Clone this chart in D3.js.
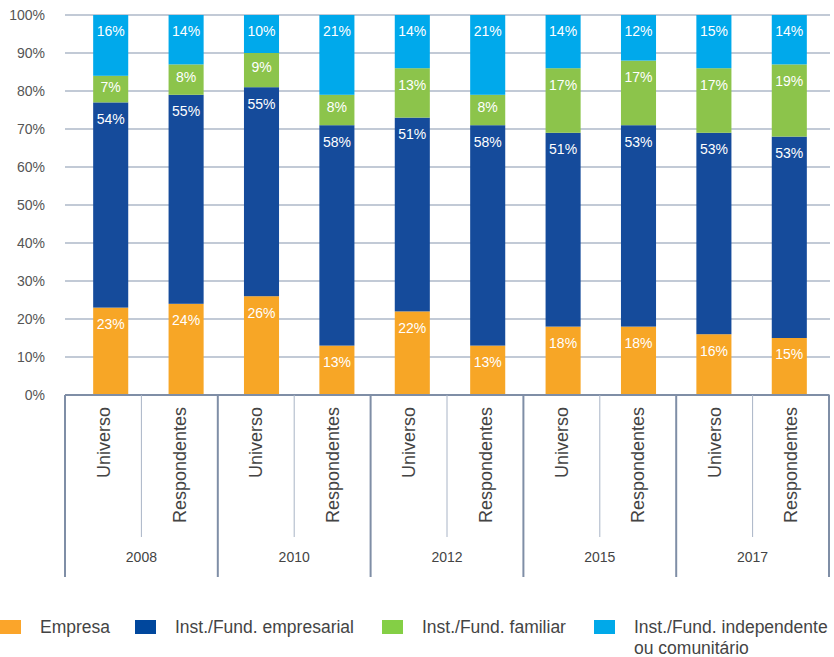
<!DOCTYPE html>
<html>
<head>
<meta charset="utf-8">
<script src="https://cdn.jsdelivr.net/npm/d3@7"></script>
<style>
  html, body { margin: 0; padding: 0; background: #fff; }
  svg { display: block; font-family: "Liberation Sans", Arial, sans-serif; }
</style>
</head>
<body>
<svg id="chart" width="834" height="657"></svg>
<script>
// ---- data ----
const years = ["2008", "2010", "2012", "2015", "2017"];
const groups = ["Universo", "Respondentes"];
const seriesNames = ["Empresa", "Inst./Fund. empresarial", "Inst./Fund. familiar", "Inst./Fund. independente ou comunitário"];
const empresa     = [23, 24, 26, 13, 22, 13, 18, 18, 16, 15];
const empresarial = [54, 55, 55, 58, 51, 58, 51, 53, 53, 53];
const familiar    = [7, 8, 9, 8, 13, 8, 17, 17, 17, 19];
const independente= [16, 14, 10, 21, 14, 21, 14, 12, 15, 14];
const yTicks = [0, 10, 20, 30, 40, 50, 60, 70, 80, 90, 100];
const barColors = ["#F7A626", "#154B9B", "#8CC44B", "#00A9EB"];
const legendColors = ["#FBA52A", "#00479D", "#84CF45", "#00A9E9"];

// ---- build table ----
const keys = ["empresa", "empresarial", "familiar", "independente"];
const cats = [];
years.forEach(y => groups.forEach(g => cats.push(y + "|" + g)));
const table = cats.map((c, i) => ({
  cat: c,
  empresa: empresa[i], empresarial: empresarial[i],
  familiar: familiar[i], independente: independente[i]
}));
const stacked = d3.stack().keys(keys)(table);

const svg = d3.select("#chart");

// ---- scales ----
const y = d3.scaleLinear().domain([0, 100]).range([395, 15]).clamp(true);
const xBar = d3.scaleBand().domain(cats).range([73, 827]).paddingInner(0.535).paddingOuter(0.2675);
const xAxisCat = d3.scaleBand().domain(cats).range([65, 829]);
const xYear = d3.scaleBand().domain(years).range([65, 829]);

// ---- gridlines ----
svg.append("g").selectAll("line").data(yTicks).join("line")
  .attr("x1", 65).attr("x2", 830)
  .attr("y1", d => y(d)).attr("y2", d => y(d))
  .attr("stroke", "#AEB8C8").attr("stroke-width", 1.3);

// ---- y labels ----
svg.append("g").selectAll("text").data(yTicks).join("text")
  .attr("x", 45).attr("y", d => y(d))
  .attr("dy", "0.35em")
  .attr("text-anchor", "end")
  .attr("font-size", 14).attr("fill", "#555")
  .text(d => d + "%");

// ---- bars ----
const layers = svg.append("g").selectAll("g").data(stacked).join("g")
  .attr("fill", (d, i) => barColors[i]);
layers.selectAll("rect").data(d => d).join("rect")
  .attr("x", d => xBar(d.data.cat))
  .attr("width", xBar.bandwidth())
  .attr("y", d => y(d[1]))
  .attr("height", d => y(d[0]) - y(d[1]));

// ---- value labels ----
stacked.forEach((layer, li) => {
  svg.append("g").selectAll("text").data(layer).join("text")
    .attr("x", d => xBar(d.data.cat) + xBar.bandwidth() / 2)
    .attr("y", d => {
      const top = y(d[1]);
      const h = y(d[0]) - y(d[1]);
      return top + Math.min(16.5, h * 0.42);
    })
    .attr("dy", "0.35em")
    .attr("text-anchor", "middle")
    .attr("font-size", 14).attr("fill", "#fff")
    .text(d => d.data[keys[li]] + "%");
});

// ---- category axis ----
const ax = svg.append("g");
ax.append("line").attr("x1", 65).attr("x2", 829).attr("y1", 395).attr("y2", 395)
  .attr("stroke", "#7F8EA6").attr("stroke-width", 2);
const bounds = years.map(yv => xYear(yv)).concat([xYear(years[years.length - 1]) + xYear.bandwidth()]);
ax.selectAll("line.outer").data(bounds).join("line").attr("class", "outer")
  .attr("x1", d => d).attr("x2", d => d).attr("y1", 395).attr("y2", 577)
  .attr("stroke", "#7F8EA6").attr("stroke-width", 2);
ax.selectAll("line.inner").data(years).join("line").attr("class", "inner")
  .attr("x1", d => xYear(d) + xYear.bandwidth() / 2).attr("x2", d => xYear(d) + xYear.bandwidth() / 2)
  .attr("y1", 395).attr("y2", 537)
  .attr("stroke", "#A9B4C6").attr("stroke-width", 1);
ax.selectAll("text.cat").data(cats).join("text").attr("class", "cat")
  .attr("transform", d => `translate(${xAxisCat(d) + xAxisCat.bandwidth() / 2},407) rotate(-90)`)
  .attr("dy", "0.35em")
  .attr("text-anchor", "end")
  .attr("font-size", 18).attr("fill", "#444")
  .text(d => d.split("|")[1]);
ax.selectAll("text.year").data(years).join("text").attr("class", "year")
  .attr("x", d => xYear(d) + xYear.bandwidth() / 2)
  .attr("y", 557).attr("dy", "0.35em")
  .attr("text-anchor", "middle")
  .attr("font-size", 14).attr("fill", "#444")
  .text(d => d);

// ---- legend ----
const legendX = [0, 135, 382, 594];
const lg = svg.append("g");
seriesNames.forEach((name, i) => {
  lg.append("rect").attr("x", legendX[i]).attr("y", 620).attr("width", 21).attr("height", 14)
    .attr("fill", legendColors[i]);
  const t = lg.append("text").attr("x", legendX[i] + 40).attr("y", 633)
    .attr("font-size", 17.5).attr("fill", "#444");
  if (i === 3) {
    t.append("tspan").attr("x", legendX[i] + 40).text("Inst./Fund. independente");
    t.append("tspan").attr("x", legendX[i] + 40).attr("dy", 21).text("ou comunitário");
  } else {
    t.text(name);
  }
});
</script>
</body>
</html>
